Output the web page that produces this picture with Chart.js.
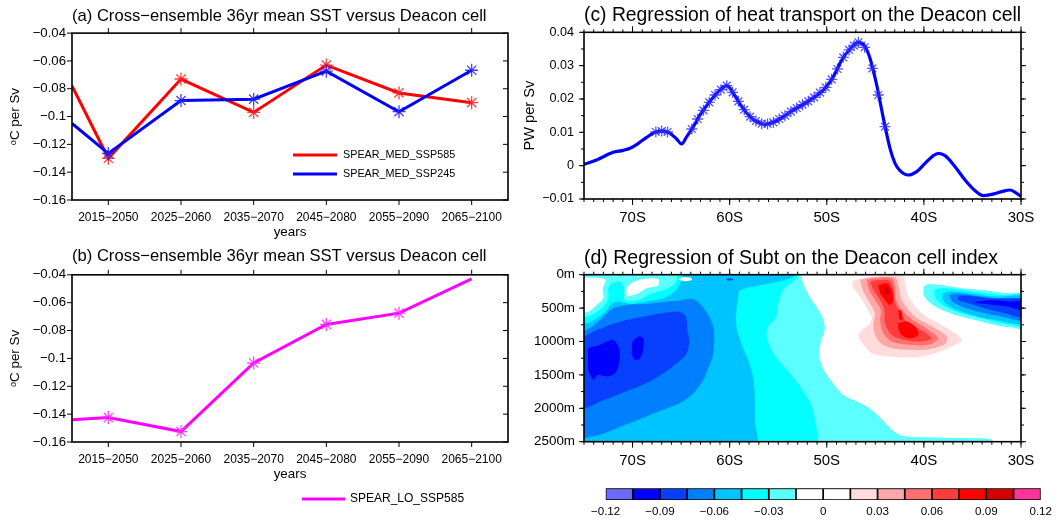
<!DOCTYPE html>
<html>
<head>
<meta charset="utf-8">
<script src="https://cdn.jsdelivr.net/npm/chart.js@4.4.1/dist/chart.umd.min.js"></script>
<style>
html,body{margin:0;padding:0;background:#fff;}
#wrap{position:relative;width:1057px;height:520px;overflow:hidden;background:#fff;}
.pane{position:absolute;}
.pane canvas{display:block;}
</style>
</head>
<body>
<div id="wrap">
  <div class="pane" style="left:0;top:0;"><canvas id="ca" width="520" height="240"></canvas></div>
  <div class="pane" style="left:0;top:240px;"><canvas id="cb" width="520" height="280"></canvas></div>
  <div class="pane" style="left:520px;top:0;"><canvas id="cc" width="537" height="240"></canvas></div>
  <div class="pane" style="left:520px;top:240px;"><canvas id="cd" width="537" height="240"></canvas></div>
  <div class="pane" style="left:520px;top:480px;"><canvas id="ce" width="537" height="40"></canvas></div>
</div>
<script>
// ---------------- DATA ----------------
const PERIODS = ['2015\u22122050','2025\u22122060','2035\u22122070','2045\u22122080','2055\u22122090','2065\u22122100'];
// x = -0.5 is the left plot edge where the lines enter the frame
const A_X = [-0.5, 0, 1, 2, 3, 4, 5];
const A_MED585 = [-0.078, -0.130, -0.073, -0.097, -0.063, -0.083, -0.090];
const A_MED245 = [-0.105, -0.1265, -0.0885, -0.0875, -0.0674, -0.0965, -0.0667];
const A_MARKED = [false, true, true, true, true, true, true];
const B_X = [-0.5, 0, 1, 2, 3, 4, 5];
const B_LO585 = [-0.144, -0.1425, -0.1525, -0.1033, -0.0756, -0.0675, -0.0429];
const B_MARKED = [false, true, true, true, true, true, false];
const AB_YTICKS = [-0.16, -0.14, -0.12, -0.1, -0.08, -0.06, -0.04];

const C_LAT = [-75.0,-73.7,-72.0,-70.95,-70.26,-69.4,-68.55,-67.69,-66.83,-66.14,-65.46,-64.94,-64.42,-63.74,-63.05,-62.19,-61.34,-60.3,-59.62,-58.76,-57.9,-57.05,-56.36,-55.5,-54.47,-53.44,-52.24,-51.21,-50.18,-49.32,-48.46,-47.61,-46.75,-46.06,-45.55,-44.86,-44.17,-43.49,-42.97,-42.46,-41.6,-40.74,-39.88,-39.02,-38.51,-37.82,-36.79,-35.76,-34.73,-33.87,-33.01,-31.99,-31.13,-30.6,-30.0];
const C_PW = [0.0004,0.0017,0.0040,0.0046,0.0052,0.0067,0.0085,0.0100,0.0104,0.0097,0.0080,0.0065,0.0087,0.0117,0.0152,0.0187,0.0217,0.0240,0.0217,0.0177,0.0147,0.0129,0.0124,0.0130,0.0147,0.0167,0.0187,0.0207,0.0232,0.0267,0.0317,0.0350,0.0370,0.0357,0.0322,0.0242,0.0142,0.0052,0.0007,-0.0015,-0.0028,-0.0018,0.0007,0.0030,0.0037,0.0030,-0.0003,-0.0043,-0.0075,-0.0090,-0.0086,-0.0078,-0.0073,-0.0080,-0.0092];
const C_SIG_LAT = [-67.6,-67.0,-66.4,-63.9,-63.3,-62.7,-62.1,-61.5,-60.9,-60.3,-59.7,-59.1,-58.5,-57.9,-57.3,-56.7,-56.1,-55.5,-54.9,-54.3,-53.7,-53.1,-52.5,-51.9,-51.3,-50.7,-50.1,-49.5,-48.9,-48.3,-47.7,-47.2,-46.75,-46.1,-45.3,-44.7,-44.0];
const C_SIG_PW = [0.0101,0.0104,0.0101,0.0110,0.0140,0.0166,0.0190,0.0212,0.0228,0.0240,0.0220,0.0193,0.0168,0.0147,0.0134,0.0126,0.0125,0.0130,0.0140,0.0150,0.0162,0.0173,0.0183,0.0193,0.0205,0.0219,0.0235,0.0259,0.0290,0.0325,0.0347,0.0360,0.0370,0.0355,0.0292,0.0212,0.0117];
const C_YTICKS = [-0.01, 0, 0.01, 0.02, 0.03, 0.04];
const LAT_TICKS = [-70, -60, -50, -40, -30];
const D_DEPTH_TICKS = [0, 500, 1000, 1500, 2000, 2500];

// colour bar levels (16 bins)
const LEVELS = [-0.12,-0.105,-0.09,-0.075,-0.06,-0.045,-0.03,-0.015,0,0.015,0.03,0.045,0.06,0.075,0.09,0.105,0.12];
const LEVEL_COLORS = ['#6a6aff','#0000ff','#0840ff','#0080ff','#00c4ff','#00ffff','#5cffff','#ffffff','#ffffff','#ffdcdc','#ffa6a6','#ff7070','#ff3c3c','#ff0000','#d40000','#ff3399'];
const CB_LABELS = [-0.12,-0.09,-0.06,-0.03,0,0.03,0.06,0.09,0.12];

// contour regions of panel (d): [lat, depth m]
const D_LC_MAIN = [[-76,-100],[-52.7,-100],[-52.7,0],[-52.5,100],[-51.9,300],[-51.2,450],[-50.5,620],[-50.2,800],[-50.6,1000],[-50.8,1200],[-50.4,1400],[-49.5,1600],[-48.3,1800],[-46.7,1910],[-45.4,2020],[-44.1,2200],[-43.0,2360],[-42.0,2420],[-38,2440],[-34,2450],[-33,2470],[-32.5,2600],[-76,2600]];
const D_CY_MAIN = [[-76,640],[-74.7,627],[-73.9,577],[-73.0,478],[-72.5,353],[-72.5,204],[-72.15,129],[-71.3,100],[-70.9,200],[-70.8,380],[-69.4,380],[-68.2,290],[-66.8,229],[-65.8,154],[-65.4,60],[-65.2,-100],[-53.1,-100],[-53.1,50],[-54.5,229],[-55.0,428],[-55.2,627],[-56.0,777],[-56.2,926],[-55.5,1175],[-54.1,1424],[-52.75,1673],[-51.7,1922],[-51.2,2171],[-50.9,2470],[-50.8,2600],[-76,2600]];
const D_B5_MAIN = [[-76,740],[-74.7,727],[-73.7,652],[-72.8,553],[-72.2,440],[-71.6,400],[-70.9,420],[-70.2,440],[-68.55,400],[-66.8,353],[-65.5,229],[-65.1,129],[-64.8,30],[-64.8,-100],[-53.5,-100],[-53.5,30],[-55.84,129],[-58.9,229],[-59.1,328],[-59.3,527],[-59.3,777],[-58.8,1026],[-58.1,1275],[-57.6,1524],[-57.4,1822],[-57.4,2171],[-57.4,2600],[-76,2600]];
const D_B4_MAIN = [[-76,840],[-74.73,826],[-73.35,677],[-71.98,503],[-70.26,445],[-68.55,440],[-66.83,410],[-65.11,385],[-63.74,365],[-62.54,527],[-61.68,777],[-61.68,1175],[-62.2,1400],[-62.71,1573],[-63.74,1773],[-65.11,1922],[-66.83,2022],[-68.55,2121],[-70.26,2221],[-71.98,2320],[-73.35,2395],[-74.9,2445],[-76,2460]];
const D_B3_MAIN = [[-76,1030],[-74.04,851],[-72.32,752],[-70.61,677],[-68.55,617],[-66.49,567],[-65.11,557],[-64.5,627],[-64.36,826],[-64.15,1001],[-64.5,1200],[-65.46,1324],[-66.83,1474],[-68.55,1623],[-70.26,1723],[-71.98,1822],[-73.35,1897],[-74.38,1972],[-76,2060]];
const D_B2_CORE_A = [[-74.6,1100],[-73.35,1050],[-72.67,1001],[-71.98,976],[-71.46,1075],[-71.29,1225],[-71.46,1374],[-71.81,1474],[-72.67,1524],[-73.52,1499],[-74.04,1573],[-74.6,1424]];
const D_B2_CORE_B = [[-70.02,1001],[-69.4,926],[-68.89,951],[-68.89,1125],[-69.23,1250],[-69.75,1275],[-70.1,1175]];
const D_W1 = [[-76,40],[-72.84,69],[-73.08,229],[-73.01,353],[-73.7,453],[-74.55,553],[-76,580]];
const D_W2 = [[-70.6,330],[-70.6,200],[-69.8,100],[-68.5,60],[-67.3,70],[-67.4,160],[-68.5,200],[-69.4,280]];
const D_W3 = [[-65.3,70],[-64.8,40],[-64.0,45],[-63.9,80],[-64.6,100]];
const D_DOT = [[-60.4,75],[-60.0,55],[-59.6,75],[-60.0,90]];
const D_R_LC = [[-40.05,179],[-39.54,144],[-38.17,154],[-36.11,204],[-34.05,229],[-32.67,254],[-31.13,279],[-29,290],[-29,800],[-31.13,787],[-32.67,752],[-34.73,677],[-36.79,602],[-38.51,503],[-39.54,403],[-40.05,304]];
const D_R_CY = [[-38.92,304],[-38.85,229],[-37.82,204],[-36.11,229],[-34.05,269],[-31.98,304],[-29,310],[-29,760],[-31.98,727],[-34.05,652],[-36.11,577],[-37.82,478],[-38.68,378]];
const D_R_B5 = [[-38.1,353],[-37.99,279],[-36.79,254],[-34.73,289],[-32.67,328],[-29,340],[-29,730],[-32.67,677],[-34.73,617],[-36.79,518],[-37.82,428]];
const D_R_B4 = [[-37.14,403],[-37.31,303],[-36.11,289],[-34.05,328],[-31.98,368],[-29,370],[-29,690],[-31.98,627],[-34.05,567],[-36.11,478]];
const D_R_B3 = [[-36.45,388],[-36.45,328],[-35.08,318],[-33.36,353],[-29,390],[-29,650],[-31.98,567],[-33.7,503],[-35.42,428]];
const D_R_B2 = [[-35.0,420],[-34.39,400],[-33.02,378],[-31.3,400],[-29,410],[-29,560],[-31.3,478],[-32.67,453],[-33.9,435]];
const D_P1 = [[-47.43,104],[-46.4,55],[-44.34,20],[-42.11,20],[-41.94,129],[-41.6,328],[-40.22,577],[-38.17,752],[-36.79,876],[-36.11,976],[-37.14,1075],[-38.85,1175],[-40.57,1235],[-42.29,1235],[-44.34,1215],[-45.37,1175],[-46.06,1075],[-46.75,926],[-46.4,826],[-45.72,752],[-45.37,652],[-45.89,503],[-46.58,328],[-47.26,204]];
const D_P2 = [[-46.58,79],[-45.37,40],[-42.97,40],[-42.63,154],[-42.29,378],[-40.91,627],[-38.85,801],[-37.65,926],[-37.82,1036],[-39.54,1115],[-41.6,1125],[-43.31,1100],[-44.34,1036],[-45.03,901],[-45.2,727],[-45.03,577],[-45.55,428],[-46.23,254]];
const D_P3 = [[-45.89,79],[-45.03,55],[-43.31,55],[-42.97,179],[-42.8,403],[-41.6,627],[-39.54,826],[-38.51,951],[-39.54,1050],[-41.6,1050],[-43.31,1001],[-44.17,876],[-44.52,677],[-44.41,528],[-45.03,378],[-45.65,229]];
const D_P4 = [[-45.55,104],[-44.69,79],[-43.49,89],[-43.14,229],[-42.97,428],[-41.94,677],[-40.05,851],[-39.2,951],[-40.22,1001],[-41.94,976],[-43.31,901],[-44.0,727],[-44.07,528],[-44.52,378],[-45.2,229]];
const D_P5_A = [[-44.69,154],[-43.83,129],[-43.31,229],[-43.14,378],[-43.49,453],[-44.0,378],[-44.52,279]];
const D_P5_B = [[-42.63,727],[-41.77,702],[-40.91,777],[-40.57,901],[-41.43,951],[-42.29,901],[-42.63,816]];
const D_P5_C = [[-42.63,518],[-42.29,553],[-42.22,677],[-42.56,667]];
const D_P6 = [[-44.17,204],[-43.83,179],[-43.59,254],[-43.83,303],[-44.07,269]];
// drawing order bottom -> top, with the value class of each region
const D_LAYERS = [
  [-0.02, D_LC_MAIN], [-0.04, D_CY_MAIN], [-0.05, D_B5_MAIN], [-0.07, D_B4_MAIN], [-0.08, D_B3_MAIN],
  [-0.1, D_B2_CORE_A], [-0.1, D_B2_CORE_B], [-0.01, D_W1], [-0.01, D_W2], [-0.01, D_W3], [-0.08, D_DOT],
  [-0.02, D_R_LC], [-0.04, D_R_CY], [-0.05, D_R_B5], [-0.07, D_R_B4], [-0.08, D_R_B3], [-0.1, D_R_B2],
  [0.02, D_P1], [0.04, D_P2], [0.05, D_P3], [0.07, D_P4], [0.08, D_P5_A], [0.08, D_P5_B], [0.08, D_P5_C], [0.1, D_P6]
];

// ---------------- HELPERS ----------------
const FONT = "'Liberation Sans', Arial, Helvetica, sans-serif";
Chart.defaults.font.family = FONT;
Chart.defaults.font.size = 13;
Chart.defaults.color = '#000';
Chart.defaults.animation = false;

function fmtNum(v) {
  const s = String(Number(Number(v).toFixed(3)));
  return s.replace('-', '\u2212');
}
function colorFor(v) {
  for (let i = 0; i < LEVEL_COLORS.length; i++) {
    if (v >= LEVELS[i] && v < LEVELS[i + 1]) return LEVEL_COLORS[i];
  }
  return v < LEVELS[0] ? LEVEL_COLORS[0] : LEVEL_COLORS[LEVEL_COLORS.length - 1];
}
function range(a, b, step) { const out = []; for (let v = a; v <= b + 1e-9; v += step) out.push(Number(v.toFixed(4))); return out; }
const setTicks = (vals) => (s) => { s.ticks = vals.map(v => ({ value: v })); };

const framePlugin = {
  id: 'frame',
  afterDatasetsDraw(chart, args, opts) {
    const { ctx, chartArea: a } = chart;
    ctx.save();
    ctx.strokeStyle = '#000';
    (opts.marks || []).forEach(m => {
      const sc = chart.scales[m.scale];
      ctx.lineWidth = m.width || 1;
      ctx.beginPath();
      m.values.forEach(v => {
        const p = sc.getPixelForValue(v);
        m.sides.forEach(sd => {
          const side = sd[0], L = sd[1];
          if (side === 'bottom') { ctx.moveTo(p, a.bottom); ctx.lineTo(p, a.bottom + L); }
          if (side === 'top') { ctx.moveTo(p, a.top); ctx.lineTo(p, a.top - L); }
          if (side === 'left') { ctx.moveTo(a.left, p); ctx.lineTo(a.left - L, p); }
          if (side === 'right') { ctx.moveTo(a.right, p); ctx.lineTo(a.right + L, p); }
        });
      });
      ctx.stroke();
    });
    ctx.lineWidth = opts.lineWidth || 1.6;
    ctx.strokeRect(a.left, a.top, a.right - a.left, a.bottom - a.top);
    ctx.restore();
  }
};
const lineLegend = {
  id: 'lineLegend',
  afterDraw(chart, args, opts) {
    if (!opts.items) return;
    const ctx = chart.ctx;
    ctx.save();
    opts.items.forEach(it => {
      const ds = chart.data.datasets[it.ds];
      ctx.strokeStyle = ds.borderColor; ctx.lineWidth = 3.2;
      ctx.beginPath(); ctx.moveTo(it.x1, it.y); ctx.lineTo(it.x2, it.y); ctx.stroke();
      ctx.fillStyle = '#000'; ctx.font = opts.font; ctx.textBaseline = 'middle'; ctx.textAlign = 'left';
      ctx.fillText(ds.label, it.x2 + it.gap, it.y);
    });
    ctx.restore();
  }
};
const noGrid = { display: false, drawTicks: false };
const noBorder = { display: false };

function yearPanel(id, title, datasets, legendCfg, layoutPad, titlePad) {
  return new Chart(document.getElementById(id), {
    type: 'line',
    data: { datasets },
    options: {
      responsive: false, animation: false, devicePixelRatio: 1,
      layout: { padding: layoutPad },
      plugins: {
        legend: { display: false }, tooltip: { enabled: false },
        title: { display: true, text: title, fullSize: false, align: 'start', color: '#000',
                 font: { size: 16.6, weight: 'normal' }, padding: titlePad },
        frame: { marks: [
          { scale: 'x', values: [0, 1, 2, 3, 4, 5], sides: [['bottom', 5], ['top', 5]] },
          { scale: 'y', values: AB_YTICKS, sides: [['left', 5], ['right', -5]] }
        ] },
        lineLegend: legendCfg
      },
      scales: {
        x: { type: 'linear', min: -0.5, max: 5.5, afterBuildTicks: setTicks([0, 1, 2, 3, 4, 5]),
             ticks: { callback: (v) => PERIODS[v], font: { size: 12 }, padding: 10, maxRotation: 0, autoSkip: false },
             grid: noGrid, border: noBorder,
             title: { display: true, text: 'years', font: { size: 13.4 }, padding: { top: 0, bottom: 0 } },
             afterFit: (s) => { s.height = 40; } },
        y: { type: 'linear', min: -0.16, max: -0.04, afterBuildTicks: setTicks(AB_YTICKS),
             ticks: { callback: (v) => fmtNum(v), font: { size: 13.2 }, padding: 6 },
             grid: noGrid, border: noBorder,
             title: { display: true, text: '\u1D52C per Sv', font: { size: 13.4 }, padding: { top: 7, bottom: 0 } },
             afterFit: (s) => { s.width = 72; } }
      }
    },
    plugins: [framePlugin, lineLegend]
  });
}

// ---------------- PANEL (a) ----------------
yearPanel('ca', '(a) Cross\u2212ensemble 36yr mean SST versus Deacon cell', [
  { label: 'SPEAR_MED_SSP585', data: A_X.map((x, i) => ({ x, y: A_MED585[i] })), borderColor: '#ff0000', backgroundColor: '#ff0000',
    borderWidth: 3, pointStyle: 'star', pointRadius: A_MARKED.map(m => m ? 6.5 : 0), pointBorderColor: 'rgba(255,30,30,0.85)', pointBorderWidth: 1.3, order: 1 },
  { label: 'SPEAR_MED_SSP245', data: A_X.map((x, i) => ({ x, y: A_MED245[i] })), borderColor: '#0000ff', backgroundColor: '#0000ff',
    borderWidth: 3, pointStyle: 'star', pointRadius: A_MARKED.map(m => m ? 6.5 : 0), pointBorderColor: 'rgba(30,30,255,0.85)', pointBorderWidth: 1.3, order: 0 }
], { font: '10.8px ' + FONT, items: [ { ds: 0, x1: 293, x2: 337, y: 155, gap: 6 }, { ds: 1, x1: 293, x2: 337, y: 174, gap: 6 } ] },
{ left: 0, right: 12, top: 0, bottom: 0 }, { top: 6.4, bottom: 6.8 });

// ---------------- PANEL (b) ----------------
yearPanel('cb', '(b) Cross\u2212ensemble 36yr mean SST versus Deacon cell', [
  { label: 'SPEAR_LO_SSP585', data: B_X.map((x, i) => ({ x, y: B_LO585[i] })), borderColor: '#ff00ff', backgroundColor: '#ff00ff',
    borderWidth: 3, pointStyle: 'star', pointRadius: B_MARKED.map(m => m ? 6.5 : 0), pointBorderColor: 'rgba(255,40,255,0.85)', pointBorderWidth: 1.3 }
], { font: '12px ' + FONT, items: [ { ds: 0, x1: 302, x2: 345, y: 259, gap: 5 } ] },
{ left: 0, right: 12, top: 0, bottom: 38 }, { top: 6.8, bottom: 8.1 });

// ---------------- PANEL (c) ----------------
const latMinor = range(-75, -30, 1);
new Chart(document.getElementById('cc'), {
  type: 'line',
  data: { datasets: [
    { label: 'significant', data: C_SIG_LAT.map((x, i) => ({ x, y: C_SIG_PW[i] })), showLine: false,
      pointStyle: 'star', pointRadius: 5.5, pointBorderColor: 'rgba(40,40,255,0.8)', pointBackgroundColor: 'rgba(40,40,255,0.8)', pointBorderWidth: 1.3, order: 0 },
    { label: 'PW per Sv', data: C_LAT.map((x, i) => ({ x, y: C_PW[i] })), borderColor: '#0000ff', backgroundColor: '#0000ff',
      borderWidth: 3.2, pointRadius: 0, cubicInterpolationMode: 'monotone', order: 1 }
  ] },
  options: {
    responsive: false, animation: false, devicePixelRatio: 1,
    layout: { padding: { left: 0, right: 36, top: 0, bottom: 0 } },
    plugins: {
      legend: { display: false }, tooltip: { enabled: false },
      title: { display: true, text: '(c) Regression of heat transport on the Deacon cell', fullSize: false, align: 'start', color: '#000',
               font: { size: 19.5, weight: 'normal' }, padding: { top: 4, bottom: 4.9 } },
      frame: { marks: [
        { scale: 'x', values: latMinor, sides: [['bottom', 3], ['top', 3]] },
        { scale: 'x', values: LAT_TICKS, sides: [['bottom', 6], ['top', 6]] },
        { scale: 'y', values: range(-0.01, 0.04, 0.005), sides: [['left', 3], ['right', 3]] },
        { scale: 'y', values: C_YTICKS, sides: [['left', 5], ['right', 5]] }
      ] }
    },
    scales: {
      x: { type: 'linear', min: -75, max: -30, afterBuildTicks: setTicks(LAT_TICKS),
           ticks: { callback: (v) => Math.abs(v) + 'S', font: { size: 15 }, padding: 10, maxRotation: 0, autoSkip: false },
           grid: noGrid, border: noBorder, afterFit: (s) => { s.height = 41; } },
      y: { type: 'linear', min: -0.01, max: 0.04, afterBuildTicks: setTicks(C_YTICKS),
           ticks: { callback: (v) => fmtNum(v), font: { size: 12.6 }, padding: 10 },
           grid: noGrid, border: noBorder,
           title: { display: true, text: 'PW per Sv', font: { size: 14.6 }, padding: { top: 1.3, bottom: 0 } },
           afterFit: (s) => { s.width = 64; } }
    }
  },
  plugins: [framePlugin]
});

// ---------------- PANEL (d) ----------------
const dSets = D_LAYERS.map((L, i) => ({
  label: 'region ' + i,
  data: L[1].map(p => ({ x: p[0], y: p[1] })),
  showLine: true, fill: 'shape', backgroundColor: colorFor(L[0]), borderColor: 'rgba(0,0,0,0)', borderWidth: 0,
  pointRadius: 0, tension: 0.3, capBezierPoints: false, order: D_LAYERS.length - i
}));
new Chart(document.getElementById('cd'), {
  type: 'scatter',
  data: { datasets: dSets },
  options: {
    responsive: false, animation: false, devicePixelRatio: 1,
    layout: { padding: { left: 0, right: 36, top: 0, bottom: 0 } },
    plugins: {
      legend: { display: false }, tooltip: { enabled: false },
      title: { display: true, text: '(d) Regression of Subt on the Deacon cell index', fullSize: false, align: 'start', color: '#000',
               font: { size: 19.5, weight: 'normal' }, padding: { top: 7, bottom: 4.3 } },
      frame: { marks: [
        { scale: 'x', values: latMinor, sides: [['bottom', 3], ['top', 3]] },
        { scale: 'x', values: LAT_TICKS, sides: [['bottom', 6], ['top', 6]] },
        { scale: 'y', values: range(0, 2500, 250), sides: [['left', 3], ['right', 3]] },
        { scale: 'y', values: D_DEPTH_TICKS, sides: [['left', 5], ['right', 5]] }
      ] }
    },
    scales: {
      x: { type: 'linear', min: -75, max: -30, afterBuildTicks: setTicks(LAT_TICKS),
           ticks: { callback: (v) => Math.abs(v) + 'S', font: { size: 15 }, padding: 10, maxRotation: 0, autoSkip: false },
           grid: noGrid, border: noBorder, afterFit: (s) => { s.height = 38.3; } },
      y: { type: 'linear', min: 0, max: 2500, reverse: true, afterBuildTicks: setTicks(D_DEPTH_TICKS),
           ticks: { callback: (v) => v + 'm', font: { size: 13.4 }, padding: 9 },
           grid: noGrid, border: noBorder, afterFit: (s) => { s.width = 64; } }
    }
  },
  plugins: [framePlugin]
});

// ---------------- COLOUR BAR ----------------
new Chart(document.getElementById('ce'), {
  type: 'bar',
  data: { labels: ['scale'], datasets: LEVEL_COLORS.map((c, i) => ({
    label: fmtNum(LEVELS[i]) + ' to ' + fmtNum(LEVELS[i + 1]),
    data: [[LEVELS[i], LEVELS[i + 1]]], backgroundColor: c, borderColor: '#000', borderWidth: 1.2,
    borderSkipped: false, grouped: false, barPercentage: 1, categoryPercentage: 1
  })) },
  options: {
    indexAxis: 'y', responsive: false, animation: false, devicePixelRatio: 1,
    layout: { padding: { left: 85.6, right: 14.6, top: 8.3, bottom: 0 } },
    plugins: { legend: { display: false }, tooltip: { enabled: false } },
    scales: {
      x: { type: 'linear', min: -0.12, max: 0.12, afterBuildTicks: setTicks(CB_LABELS),
           ticks: { callback: (v) => fmtNum(v), font: { size: 11.6 }, padding: 5, maxRotation: 0, autoSkip: false },
           grid: noGrid, border: noBorder, afterFit: (s) => { s.height = 20; } },
      y: { display: false }
    }
  }
});
</script>
</body>
</html>
